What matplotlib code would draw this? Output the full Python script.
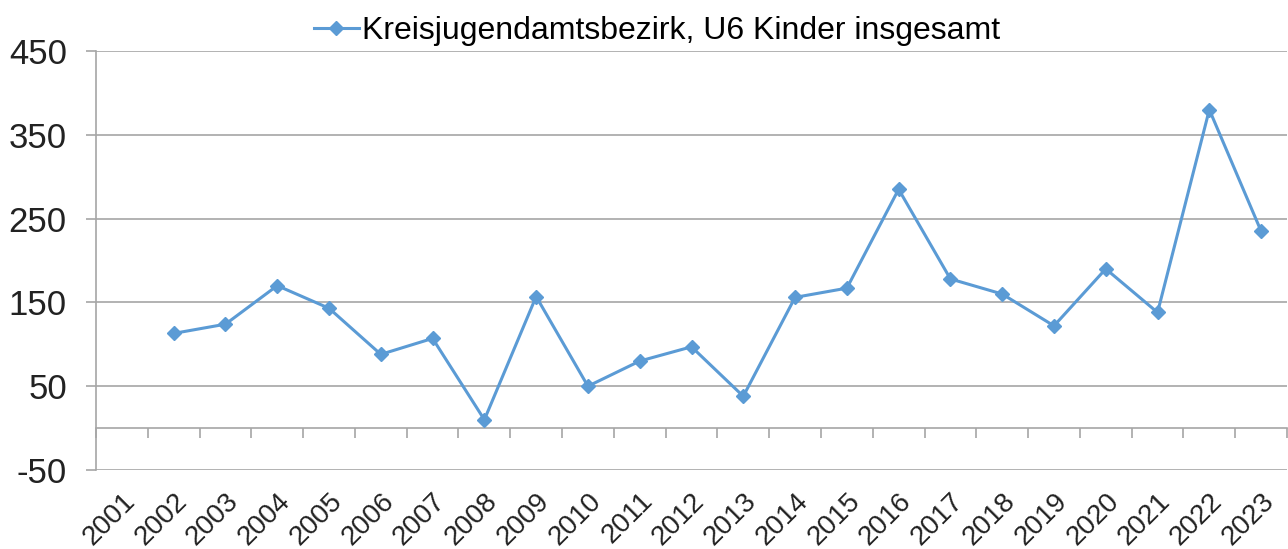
import numpy as np
import matplotlib
matplotlib.use("Agg")
import matplotlib.pyplot as plt
from matplotlib.ticker import FixedLocator
from matplotlib.transforms import ScaledTranslation

years = [str(y) for y in range(2001, 2024)]
values = [np.nan, 113, 124, 170, 143, 88, 107, 10, 157, 50, 80, 97, 38,
          156, 167, 285, 178, 160, 122, 190, 138, 380, 235]
series_label = "Kreisjugendamtsbezirk, U6 Kinder insgesamt"
y_ticks = [-50, 50, 150, 250, 350, 450]

plt.rcParams['font.family'] = ['Liberation Sans', 'DejaVu Sans']
plt.rcParams['axes.unicode_minus'] = False
grey = '#A6A6A6'
blue = '#5B9BD5'

fig = plt.figure(figsize=(12.88, 5.49), dpi=100)
ax = fig.add_axes([96/1288, 1-470/549, (1287-96)/1288, (470-51)/549])

x = np.arange(len(years))
line, = ax.plot(x, values, color=blue, lw=2.2, marker='D', ms=7,
                markeredgecolor=blue, markerfacecolor=blue, label=series_label,
                clip_on=False, zorder=3)

ax.set_xlim(-0.5, len(years) - 0.5)
ax.set_ylim(-50, 450)
ax.set_yticks(y_ticks)
ax.yaxis.grid(True, color=grey, lw=1.2)
ax.set_axisbelow(True)
ax.tick_params(axis='y', length=7, width=1.2, color=grey, labelsize=25, pad=14,
               labelcolor='#222222')

for s in ['top', 'right']:
    ax.spines[s].set_visible(False)
ax.spines['left'].set_color(grey)
ax.spines['left'].set_linewidth(1.2)
ax.spines['bottom'].set_position(('data', 0))
ax.spines['bottom'].set_color(grey)
ax.spines['bottom'].set_linewidth(1.2)

ax.set_xticks(x)
ax.set_xticklabels(years, rotation=45, ha='right', va='top',
                   rotation_mode='anchor')
shift = ScaledTranslation(-9/72, 0, fig.dpi_scale_trans)
for lab in ax.get_xticklabels():
    lab.set_transform(lab.get_transform() + shift)
ax.xaxis.set_minor_locator(FixedLocator(np.arange(-0.5, len(years), 1.0)))
ax.tick_params(axis='x', which='major', length=0, pad=43, labelsize=20,
               labelcolor='#222222')
ax.tick_params(axis='x', which='minor', length=7, width=1.2, color=grey,
               direction='out')

fig.legend(handles=[line], loc='upper center', bbox_to_anchor=(0.51, 1.0),
           frameon=False, fontsize=23, handlelength=1.4, handletextpad=0.1,
           borderaxespad=0.1)

fig.savefig('out.png', dpi=100)
